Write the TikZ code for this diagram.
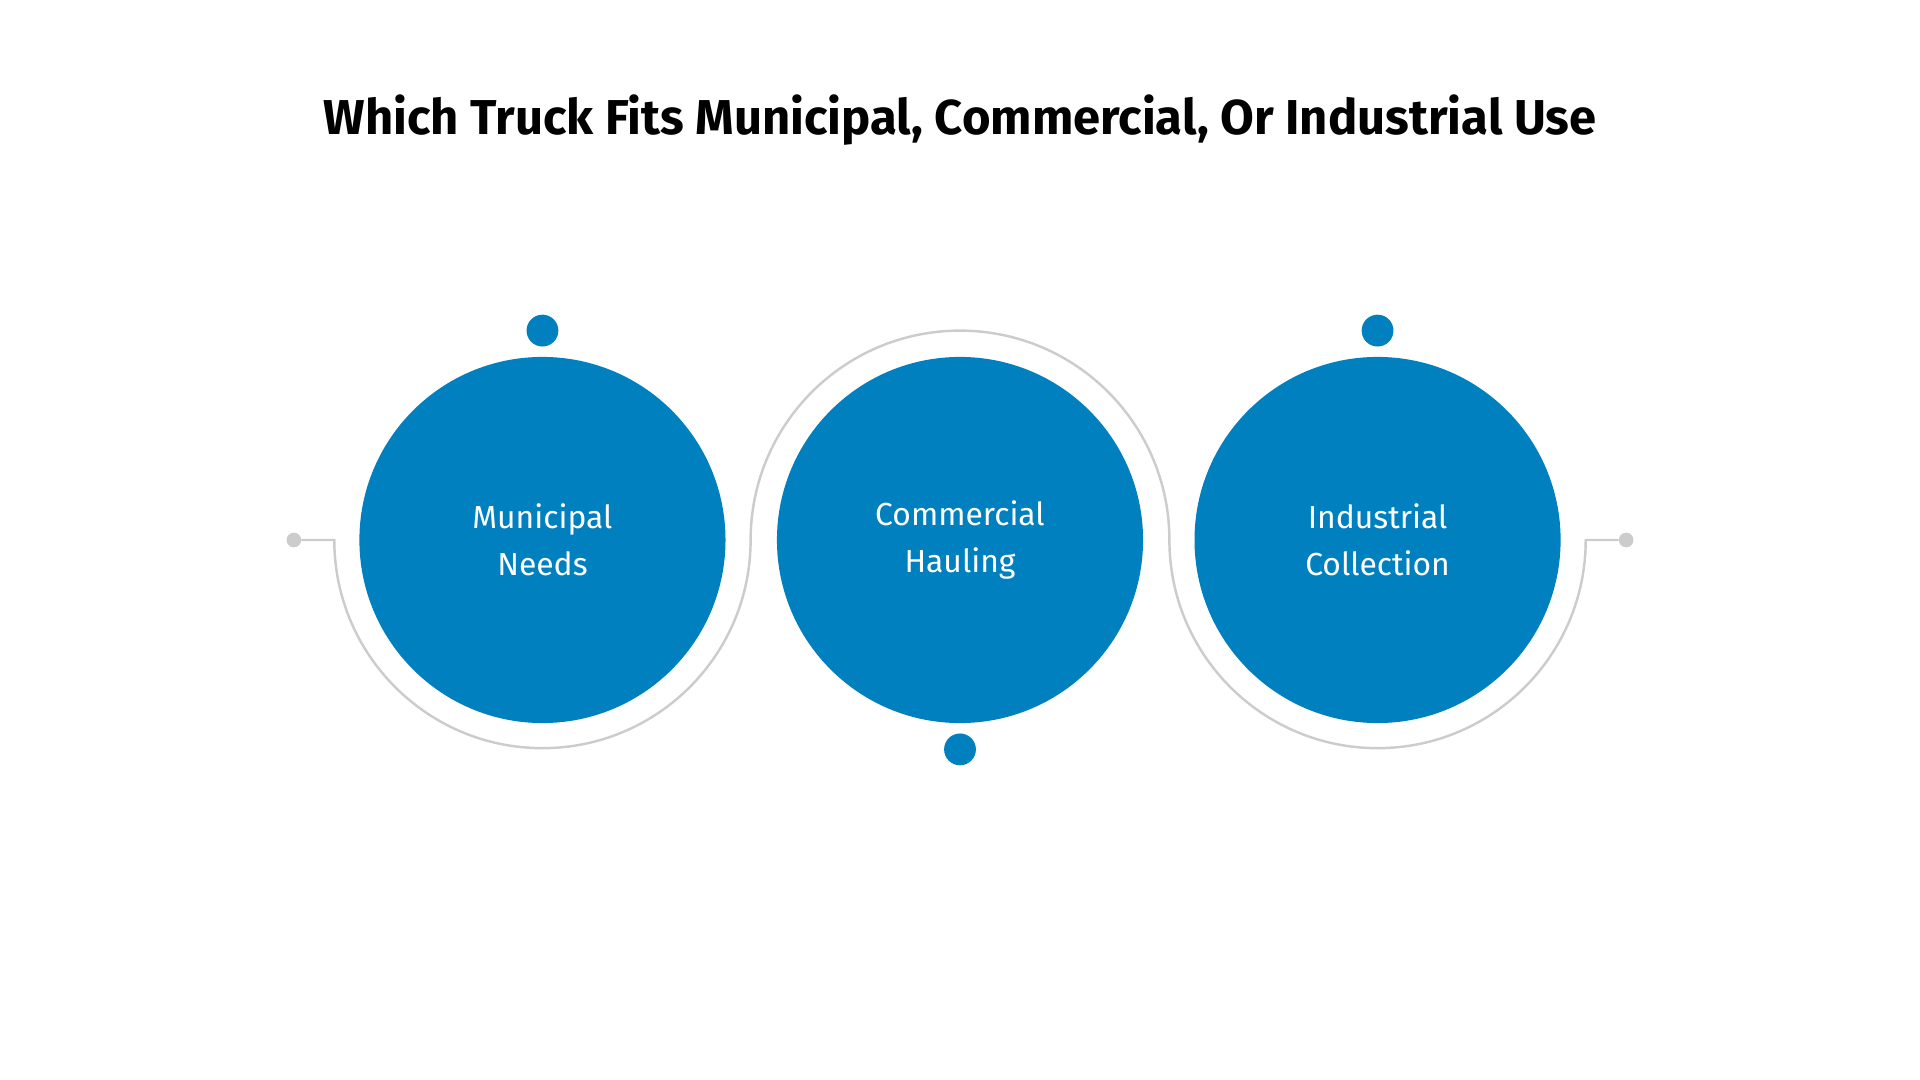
\documentclass[tikz,border=0pt]{standalone}
\usepackage{fontspec}
\setmainfont{Fira Sans}
\definecolor{blu}{HTML}{0080BF}
\definecolor{gry}{HTML}{CCCCCC}
\begin{document}
\begin{tikzpicture}[x=1pt,y=-1pt,
  big/.style={circle,fill=blu,minimum size=299pt,inner sep=0pt,text=white,font=\fontsize{26}{38}\selectfont,align=center},
  dotb/.style={circle,fill=blu,minimum size=26pt,inner sep=0pt},
  dotg/.style={circle,fill=gry,minimum size=12pt,inner sep=0pt},
  wire/.style={draw=gry,line width=2pt}]
\useasboundingbox (0,0) rectangle (1568,882);
\node[font=\bfseries\fontsize{40}{48}\selectfont] (title) at (784,98) {Which Truck Fits Municipal, Commercial, Or Industrial Use};
\node[big] (c1) at (443,441) {Municipal\\Needs};
\node[big] (c2) at (784,441) {Commercial\\Hauling};
\node[big] (c3) at (1125,441) {Industrial\\Collection};
\coordinate (a) at (273,441);
\coordinate (b) at (613,441);
\coordinate (c) at (955,441);
\coordinate (d) at (1295,441);
\node[dotg] (g1) at (240,441) {};
\node[dotg] (g2) at (1328,441) {};
\draw[wire] (g1) -- (a) arc[start angle=180,end angle=360,radius=170pt]
  arc[start angle=180,end angle=0,radius=171pt]
  arc[start angle=180,end angle=360,radius=170pt] -- (g2);
\node[dotb] (t1) at (443,270) {};
\node[dotb] (t2) at (784,612) {};
\node[dotb] (t3) at (1125,270) {};
\end{tikzpicture}
\end{document}
